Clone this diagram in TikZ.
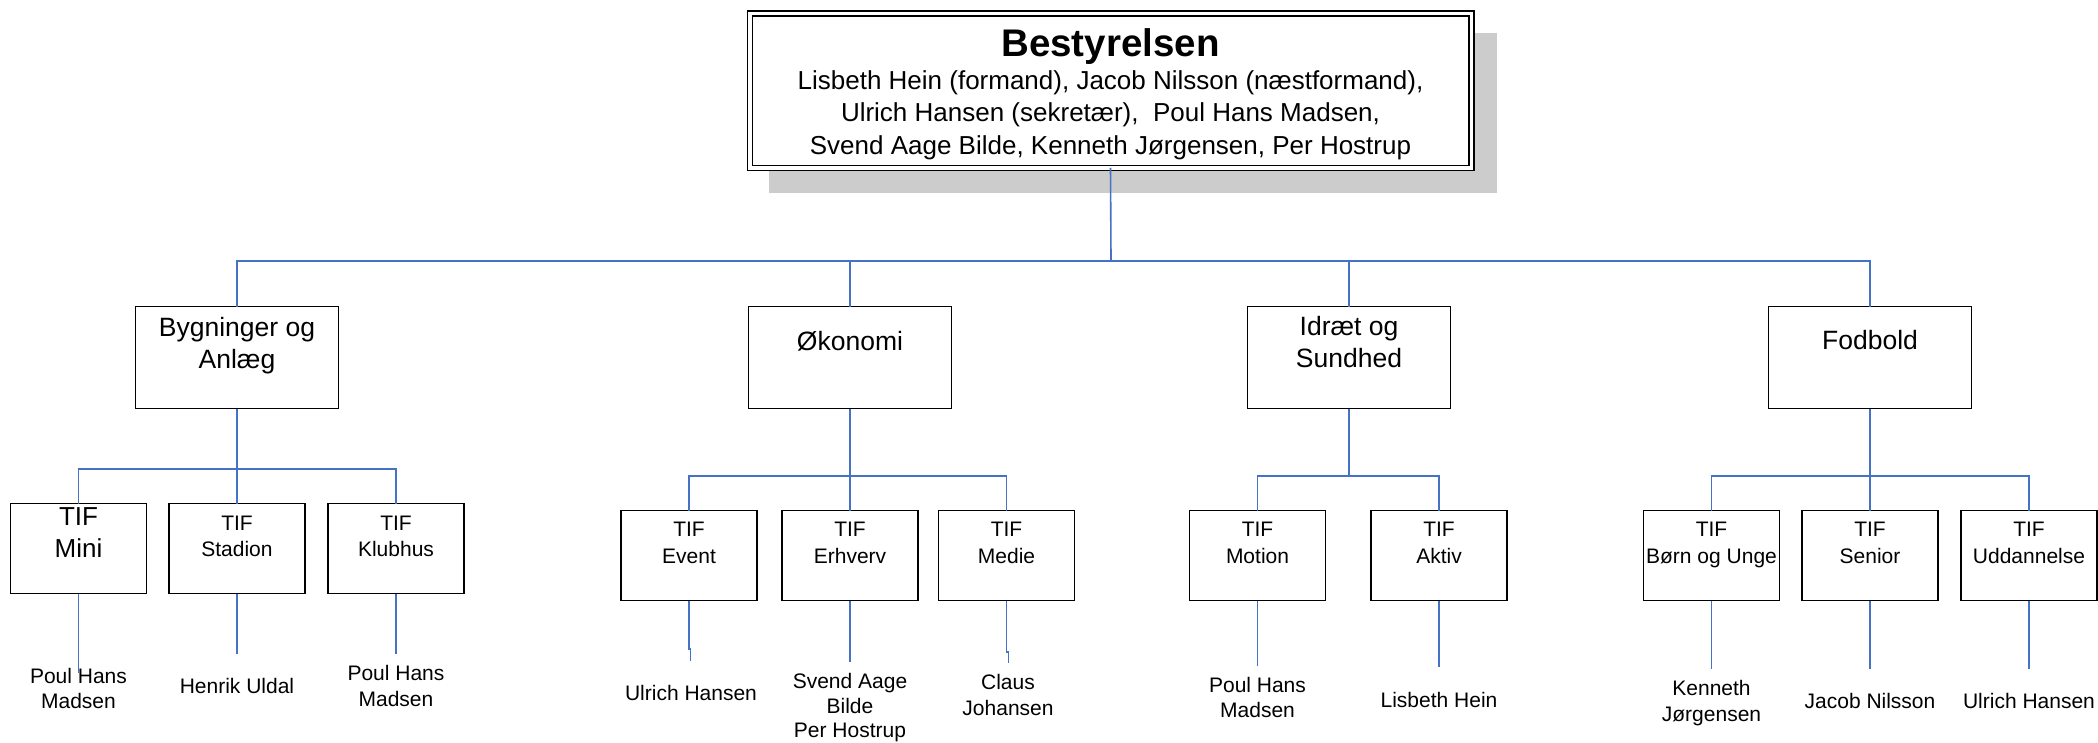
\documentclass[tikz,border=0pt]{standalone}
\usepackage{fontspec}
\setmainfont{Liberation Sans}
\definecolor{connblue}{HTML}{4472C4}
\definecolor{shadowgray}{HTML}{CCCCCC}
\begin{document}
\begin{tikzpicture}[x=1pt,y=-1pt,
  topbox/.style={draw=black, fill=white, double=white, double distance=3.5pt, line width=1.5pt,
    minimum width=721.5pt, minimum height=154.5pt, inner sep=0pt, outer sep=0pt},
  lvltwo/.style={draw=black, fill=white, line width=1.3pt, minimum width=203pt, minimum height=102pt, inner sep=0pt, outer sep=0pt},
  lvlthree/.style={draw=black, fill=white, line width=1.3pt, minimum width=136pt, minimum height=90pt, inner sep=0pt, outer sep=0pt},
  conn/.style={draw=connblue, line width=1.2pt},
  connthick/.style={draw=connblue, line width=1.6pt},
  tx/.style={anchor=base, inner sep=0pt, outer sep=0pt, font=\fontsize{#1}{#1}\selectfont},
  txb/.style={anchor=base, inner sep=0pt, outer sep=0pt, font=\fontsize{#1}{#1}\selectfont\bfseries}]
\useasboundingbox (0,0) rectangle (2098,742);

% top box with shadow
\fill[shadowgray] (769,33) rectangle (1497,193);
\node[topbox] (top) at (1110.5,90.5) {};
\node[txb=38.5] (topT) at (1110.5,56) {Bestyrelsen};
\node[tx=26] (topL1) at (1110.5,89) {Lisbeth Hein (formand), Jacob Nilsson (næstformand),};
\node[tx=26] (topL2) at (1110.5,121.5) {Ulrich Hansen (sekretær),~ Poul Hans Madsen,};
\node[tx=26] (topL3) at (1110.5,154) {Svend Aage Bilde, Kenneth Jørgensen, Per Hostrup};

% level 2
\node[lvltwo] (bygn) at (237,357.5) {};
\node[lvltwo] (okon) at (850,357.5) {};
\node[lvltwo] (idr)  at (1349,357.5) {};
\node[lvltwo] (fodb) at (1870,357.5) {};
\node[tx=26.5] (bygnT1) at (237,336) {Bygninger og};
\node[tx=26.5] (bygnT2) at (237,368) {Anlæg};
\node[tx=26.5] (okonT) at (850,350) {Økonomi};
\node[tx=26.5] (idrT1) at (1349,335) {Idræt og};
\node[tx=26.5] (idrT2) at (1349,367) {Sundhed};
\node[tx=26.5] (fodbT) at (1870,349) {Fodbold};

% level 3
\node[lvlthree] (mini) at (78.5,548.5) {};
\node[lvlthree] (stad) at (237,548.5) {};
\node[lvlthree] (klub) at (396,548.5) {};
\node[lvlthree] (event) at (689,555.5) {};
\node[lvlthree] (erhv) at (850,555.5) {};
\node[lvlthree] (medie) at (1006.5,555.5) {};
\node[lvlthree] (motion) at (1257.5,555.5) {};
\node[lvlthree] (aktiv) at (1439,555.5) {};
\node[lvlthree] (born) at (1711.5,555.5) {};
\node[lvlthree] (senior) at (1870,555.5) {};
\node[lvlthree] (udd) at (2029,555.5) {};

\node[tx=26] (miniT1) at (78.5,525) {TIF};
\node[tx=26] (miniT2) at (78.5,557) {Mini};
\node[tx=21] (stadT1) at (237,530) {TIF};
\node[tx=21] (stadT2) at (237,556) {Stadion};
\node[tx=21] (klubT1) at (396,530) {TIF};
\node[tx=21] (klubT2) at (396,556) {Klubhus};
\node[tx=21] (eventT1) at (689,536) {TIF};
\node[tx=21] (eventT2) at (689,563) {Event};
\node[tx=21] (erhvT1) at (850,536) {TIF};
\node[tx=21] (erhvT2) at (850,563) {Erhverv};
\node[tx=21] (medieT1) at (1006.5,536) {TIF};
\node[tx=21] (medieT2) at (1006.5,563) {Medie};
\node[tx=21] (motionT1) at (1257.5,536) {TIF};
\node[tx=21] (motionT2) at (1257.5,563) {Motion};
\node[tx=21] (aktivT1) at (1439,536) {TIF};
\node[tx=21] (aktivT2) at (1439,563) {Aktiv};
\node[tx=21] (bornT1) at (1711.5,536) {TIF};
\node[tx=21] (bornT2) at (1711.5,563) {Børn og Unge};
\node[tx=21] (seniorT1) at (1870,536) {TIF};
\node[tx=21] (seniorT2) at (1870,563) {Senior};
\node[tx=21] (uddT1) at (2029,536) {TIF};
\node[tx=21] (uddT2) at (2029,563) {Uddannelse};

% names
\node[tx=21] (n1a) at (78.5,683) {Poul Hans};
\node[tx=21] (n1b) at (78.5,708) {Madsen};
\node[tx=21] (n2) at (237,693) {Henrik Uldal};
\node[tx=21] (n3a) at (396,680) {Poul Hans};
\node[tx=21] (n3b) at (396,706) {Madsen};
\node[tx=21] (n4) at (691,700) {Ulrich Hansen};
\node[tx=21] (n5a) at (850,688) {Svend Aage};
\node[tx=21] (n5b) at (850,713) {Bilde};
\node[tx=21] (n5c) at (850,737) {Per Hostrup};
\node[tx=21] (n6a) at (1008,689) {Claus};
\node[tx=21] (n6b) at (1008,715) {Johansen};
\node[tx=21] (n7a) at (1257.5,692) {Poul Hans};
\node[tx=21] (n7b) at (1257.5,717) {Madsen};
\node[tx=21] (n8) at (1439,707) {Lisbeth Hein};
\node[tx=21] (n9a) at (1711.5,695) {Kenneth};
\node[tx=21] (n9b) at (1711.5,721) {Jørgensen};
\node[tx=21] (n10) at (1870,708) {Jacob Nilsson};
\node[tx=21] (n11) at (2029,708) {Ulrich Hansen};

% connectors level 1 -> 2
\coordinate (bar) at (1111,261);
\draw[connthick] (top.south) -- (bar);
\draw[conn] (bygn.north) |- (bar) -| (fodb.north);
\draw[conn] (okon.north) -- (okon.north |- bar);
\draw[conn] (idr.north) -- (idr.north |- bar);

% level 2 -> 3
\coordinate (bygnBar) at (237,469);
\coordinate (okonBar) at (850,476);
\coordinate (idrBar) at (1349,476);
\coordinate (fodbBar) at (1870,476);
\draw[connthick] (bygn.south) -- (bygnBar);
\draw[connthick] (okon.south) -- (okonBar);
\draw[connthick] (idr.south) -- (idrBar);
\draw[connthick] (fodb.south) -- (fodbBar);
\draw[conn] (mini.north) |- (bygnBar) -| (klub.north);
\draw[conn] (stad.north) -- (bygnBar);
\draw[conn] (event.north) |- (okonBar) -| (medie.north);
\draw[conn] (erhv.north) -- (okonBar);
\draw[conn] (motion.north) |- (idrBar) -| (aktiv.north);
\draw[conn] (born.north) |- (fodbBar) -| (udd.north);
\draw[conn] (senior.north) -- (fodbBar);

% level 3 -> names
\coordinate (e1) at (78.5,673);
\coordinate (e2) at (237,654);
\coordinate (e3) at (396,654);
\coordinate (e4) at (690.5,661);
\coordinate (e5) at (850,662);
\coordinate (e6) at (1008.5,663);
\coordinate (e7) at (1257.5,666);
\coordinate (e8) at (1439,667);
\coordinate (e9) at (1711.5,669);
\coordinate (e10) at (1870,669);
\coordinate (e11) at (2029,669);
\draw[conn] (mini.south) -- (e1);
\draw[conn] (stad.south) -- (e2);
\draw[conn] (klub.south) -- (e3);
\draw[conn] (event.south) -- (689,649) -- (690.5,649) -- (e4);
\draw[conn] (erhv.south) -- (e5);
\draw[conn] (medie.south) -- (1006.5,652) -- (1008.5,652) -- (e6);
\draw[conn] (motion.south) -- (e7);
\draw[conn] (aktiv.south) -- (e8);
\draw[conn] (born.south) -- (e9);
\draw[conn] (senior.south) -- (e10);
\draw[conn] (udd.south) -- (e11);
\end{tikzpicture}
\end{document}
